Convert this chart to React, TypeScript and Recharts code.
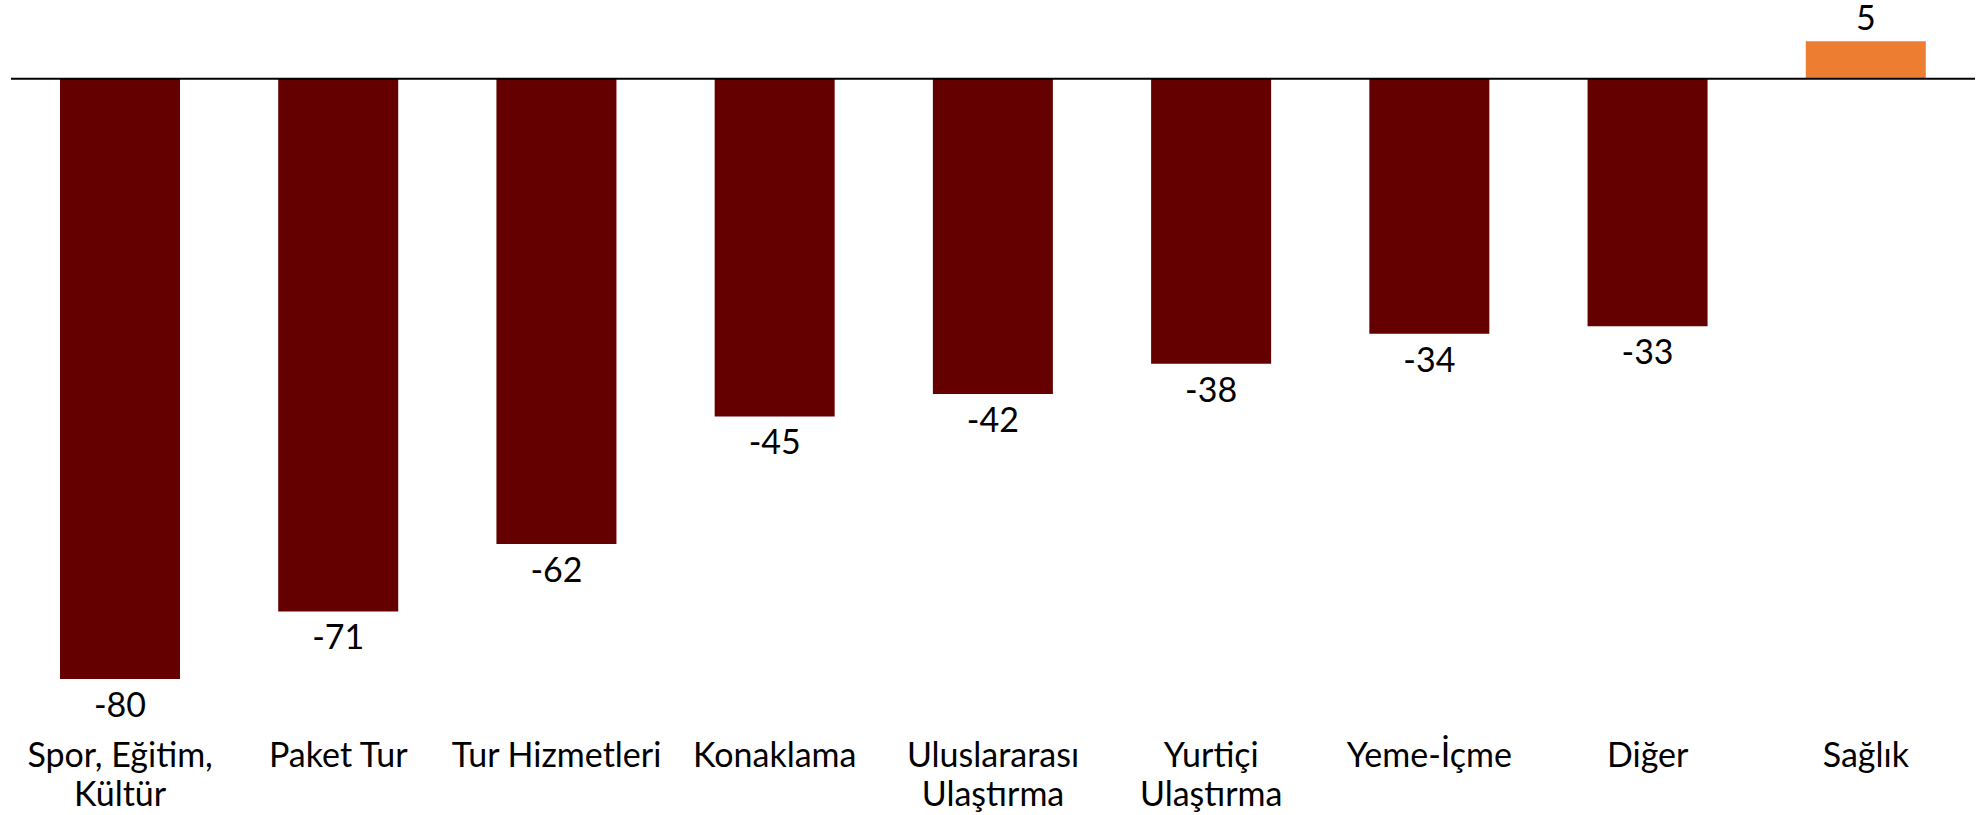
import { BarChart, Bar, XAxis, YAxis, ReferenceLine, Cell, LabelList } from "recharts"

// categories (multi-line labels split by "\n") and % change values
const categories = [
  "Spor, Eğitim,\nKültür",
  "Paket Tur",
  "Tur Hizmetleri",
  "Konaklama",
  "Uluslararası\nUlaştırma",
  "Yurtiçi\nUlaştırma",
  "Yeme-İçme",
  "Diğer",
  "Sağlık",
]
const values = [-80, -71, -62, -45, -42, -38, -34, -33, 5]

const NEG_COLOR = "#640000"
const POS_COLOR = "#ED7D31"
const FONT = "Lato, 'Open Sans', sans-serif"

const data = categories.map((name, i) => ({ name, value: values[i] }))

const CategoryTick = (props: any) => {
  const { x, y, payload } = props
  const lines = String(payload.value).split("\n")
  return (
    <text x={x} y={y} textAnchor="middle" fill="#000" fontSize={34} fontFamily={FONT}>
      {lines.map((line, i) => (
        <tspan key={i} x={x} dy={i === 0 ? 37 : 39}>
          {line}
        </tspan>
      ))}
    </text>
  )
}

const ValueLabel = (props: any) => {
  const { x, y, width, height, value } = props
  const top = Math.min(y, y + height)
  const bottom = Math.max(y, y + height)
  const ty = value < 0 ? bottom + 38 : top - 11
  return (
    <text x={x + width / 2} y={ty} textAnchor="middle" fill="#000" fontSize={34} fontFamily={FONT}>
      {value}
    </text>
  )
}

export default function App() {
  return (
    <div style={{ position: "absolute", left: 0, top: 0, background: "#fff" }}>
      <BarChart
        width={1982}
        height={815}
        data={data}
        margin={{ top: 0, right: 7, bottom: 0, left: 11 }}
        barSize={120}
      >
        <XAxis
          dataKey="name"
          axisLine={false}
          tickLine={false}
          tickSize={0}
          tickMargin={0}
          height={85}
          interval={0}
          tick={<CategoryTick />}
        />
        <YAxis hide domain={[-86.8, 10.5]} />
        <Bar dataKey="value" isAnimationActive={false}>
          {data.map((d, i) => (
            <Cell key={i} fill={d.value < 0 ? NEG_COLOR : POS_COLOR} />
          ))}
          <LabelList dataKey="value" content={<ValueLabel />} />
        </Bar>
        <ReferenceLine y={0} stroke="#000" strokeWidth={2} />
      </BarChart>
    </div>
  )
}
